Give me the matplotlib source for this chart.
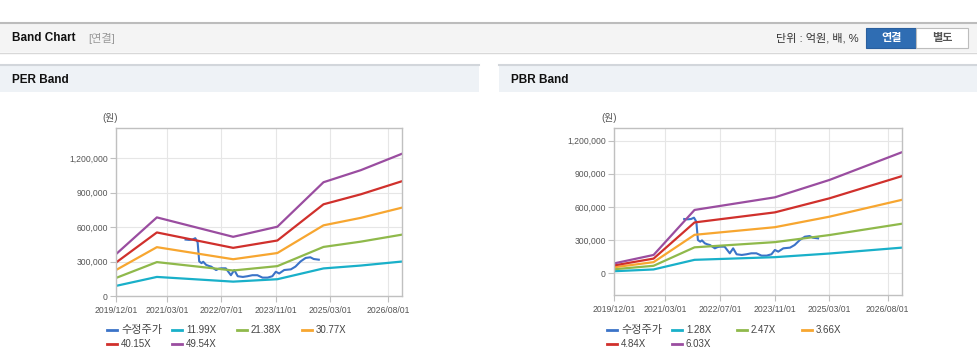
import pandas as pd
import matplotlib.pyplot as plt
import matplotlib.dates as mdates
from matplotlib.patches import Rectangle
from matplotlib.lines import Line2D
from matplotlib.ticker import FuncFormatter

plt.rcParams['font.family'] = ['Liberation Sans', 'Noto Sans CJK KR', 'DejaVu Sans']

# ---- data -------------------------------------------------------------
price_dates = ["2021-08-15", "2021-09-15", "2021-10-15", "2021-11-10", "2021-12-01",
               "2021-12-15", "2022-01-05", "2022-01-20", "2022-02-15", "2022-03-10",
               "2022-04-01", "2022-05-15", "2022-06-10", "2022-07-01", "2022-08-10",
               "2022-09-25", "2022-10-25", "2022-11-25", "2023-01-10", "2023-02-20",
               "2023-04-05", "2023-05-20", "2023-07-05", "2023-08-20", "2023-10-01",
               "2023-11-01", "2023-12-01", "2024-01-15", "2024-03-15", "2024-04-25",
               "2024-06-10", "2024-07-25", "2024-09-05", "2024-10-05", "2024-11-20"]
price = [491000, 488000, 491000, 503000, 467000,
         301000, 286000, 298000, 271000, 262000,
         256000, 226000, 238000, 241000, 241000,
         181000, 226000, 172000, 166000, 172000,
         181000, 181000, 160000, 160000, 172000,
         211000, 196000, 226000, 232000, 256000,
         301000, 331000, 337000, 322000, 316000]

per_dates = ["2019-12-01", "2020-12-01", "2022-10-15", "2023-11-15",
             "2025-01-01", "2025-12-01", "2026-12-05"]
per_labels = ["11.99X", "21.38X", "30.77X", "40.15X", "49.54X"]
per_1199 = [88000, 166000, 125000, 146000, 240000, 265000, 300000]
per_2138 = [157000, 295000, 222000, 260000, 427000, 473000, 534000]
per_3077 = [226000, 425000, 320000, 374000, 615000, 680000, 769000]
per_4015 = [291000, 553000, 419000, 483000, 798000, 885000, 999000]
per_4954 = [364000, 684000, 515000, 603000, 990000, 1095000, 1238000]

pbr_dates = ["2019-12-01", "2020-11-15", "2021-11-15", "2023-11-01",
             "2025-03-01", "2026-12-05"]
pbr_labels = ["1.28X", "2.47X", "3.66X", "4.84X", "6.03X"]
pbr_128 = [19000, 35000, 122000, 146000, 179000, 232000]
pbr_247 = [37000, 68000, 235000, 282000, 346000, 448000]
pbr_366 = [55000, 101000, 348000, 417000, 512000, 664000]
pbr_484 = [72000, 133000, 460000, 551000, 678000, 878000]
pbr_603 = [90000, 166000, 573000, 687000, 844000, 1094000]

x_ticks = ["2019/12/01", "2021/03/01", "2022/07/01", "2023/11/01", "2025/03/01", "2026/08/01"]
price_name = "수정주가"

colors = ["#3b73c8", "#19b0c9", "#8fb94b", "#f7a630", "#d0302c", "#9a4da0"]

# ---- figure / page chrome ----------------------------------------------
W, H = 978, 364
fig = plt.figure(figsize=(W / 100, H / 100), dpi=100)
fig.patch.set_facecolor("white")


def fx(x):
    return x / W


def fy(y):
    return 1 - y / H


def rect(x0, y0, x1, y1, **kw):
    fig.add_artist(Rectangle((fx(x0), fy(y1)), fx(x1 - x0), (y1 - y0) / H,
                             transform=fig.transFigure, **kw))


def hline(x0, x1, y, color, lw):
    fig.add_artist(Line2D([fx(x0), fx(x1)], [fy(y), fy(y)], transform=fig.transFigure,
                          color=color, lw=lw))


# header bar
rect(0, 22, 978, 52, facecolor="#f4f4f4", edgecolor="none")
hline(0, 978, 22.5, "#bcbcbc", 1.5)
hline(0, 978, 52.5, "#d8d8d8", 1.0)
fig.text(fx(12), fy(38), "Band Chart", fontsize=8.5, fontweight="bold", color="#111",
         va="center", ha="left")
fig.text(fx(88), fy(38), "[연결]", fontsize=8, color="#999", va="center", ha="left")
fig.text(fx(859), fy(38), "단위 : 억원, 배, %", fontsize=8, color="#333", va="center", ha="right")
rect(866.5, 28.5, 916.5, 47.5, facecolor="#2f6db3", edgecolor="#2a5f9e", lw=0.8)
rect(916.5, 28.5, 968.5, 47.5, facecolor="white", edgecolor="#bdbdbd", lw=0.8)
fig.text(fx(891.5), fy(38), "연결", fontsize=8, fontweight="bold", color="white",
         va="center", ha="center")
fig.text(fx(942.5), fy(38), "별도", fontsize=8, fontweight="bold", color="#555",
         va="center", ha="center")

# panel headers
for x0, x1, title in [(0, 479, "PER Band"), (499, 978, "PBR Band")]:
    rect(x0, 64, x1, 92, facecolor="#eef2f6", edgecolor="none")
    hline(x0, x1, 64.5, "#d2d6db", 1.5)
    fig.text(fx(x0 + 12), fy(80), title, fontsize=8.5, fontweight="bold", color="#111",
             va="center", ha="left")

# ---- charts -------------------------------------------------------------
tick_dates = pd.to_datetime(x_ticks, format="%Y/%m/%d")
xmin, xmax = pd.Timestamp("2019-12-01"), pd.Timestamp("2026-12-05")
price_x = pd.to_datetime(price_dates)


def draw_chart(ax, band_x, bands, labels, ylim, leg_x):
    ax.plot(price_x, price, color=colors[0], lw=1.5)
    for vals, c in zip(bands, colors[1:]):
        ax.plot(band_x, vals, color=c, lw=1.6)
    ax.set_xlim(xmin, xmax)
    ax.set_ylim(*ylim)
    ax.set_xticks(tick_dates)
    ax.xaxis.set_major_formatter(mdates.DateFormatter("%Y/%m/%d"))
    ax.set_yticks([0, 300000, 600000, 900000, 1200000])
    ax.yaxis.set_major_formatter(FuncFormatter(lambda v, p: f"{int(v):,}"))
    ax.grid(True, color="#e6e6e6", lw=0.8)
    ax.set_axisbelow(True)
    for s in ax.spines.values():
        s.set_color("#c0c0c0")
        s.set_linewidth(1.0)
    ax.tick_params(axis="both", length=4, color="#c0c0c0", labelsize=6.2,
                   labelcolor="#555", pad=2)
    ax.tick_params(axis="x", pad=3)

    # legend laid out like the web chart
    names = [price_name] + labels
    for i, name in enumerate(names):
        row, col = divmod(i, 4)
        x = leg_x + col * 65
        y = 330 + row * 14
        fig.add_artist(Line2D([fx(x), fx(x + 10)], [fy(y), fy(y)],
                              transform=fig.transFigure, color=colors[i], lw=2))
        fs = 8 if i == 0 else 7
        fig.text(fx(x + 14), fy(y), name, fontsize=fs, color="#444",
                 va="center", ha="left")


ax1 = fig.add_axes([fx(116), fy(296), fx(402 - 116), (296 - 128) / H])
draw_chart(ax1, pd.to_datetime(per_dates),
           [per_1199, per_2138, per_3077, per_4015, per_4954],
           per_labels, (0, 1462000), 107)
fig.text(fx(110), fy(118), "(원)", fontsize=7, color="#555", va="center", ha="center")

ax2 = fig.add_axes([fx(614.3), fy(295), fx(901.7 - 614.3), (295 - 128.3) / H])
draw_chart(ax2, pd.to_datetime(pbr_dates),
           [pbr_128, pbr_247, pbr_366, pbr_484, pbr_603],
           pbr_labels, (-196000, 1311000), 607)
fig.text(fx(609), fy(118), "(원)", fontsize=7, color="#555", va="center", ha="center")

plt.savefig("out.png", dpi=100)
plt.close()
